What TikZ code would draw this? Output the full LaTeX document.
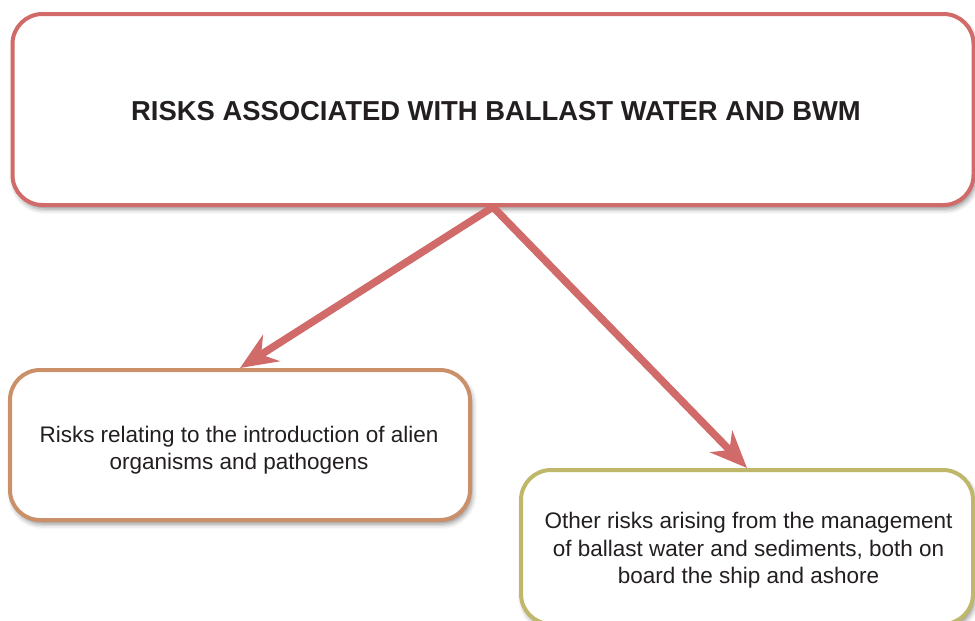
\documentclass[tikz,border=0pt]{standalone}
\usepackage{fontspec}
\setmainfont{Liberation Sans}
\usetikzlibrary{arrows.meta,shadows.blur}

\definecolor{riskred}{HTML}{D16B69}
\definecolor{risktan}{HTML}{C9906A}
\definecolor{riskolive}{HTML}{BFB76A}
\definecolor{inkgray}{HTML}{231F20}

\tikzset{
  card/.style={draw, line width=4pt, rounded corners=30pt, fill=white,
    inner sep=0pt,
    blur shadow={shadow xshift=2pt, shadow yshift=-4pt,
      shadow blur radius=5pt, shadow opacity=45}},
  cardtext/.style={text=inkgray, align=center, inner sep=0pt},
  bodytext/.style={cardtext, font=\fontsize{22.5}{27.5}\selectfont},
  link/.style={draw=riskred, line width=7.5pt,
    -{Stealth[length=37pt, width=31pt, inset=12pt]}}
}

\begin{document}
\begin{tikzpicture}[x=1pt, y=1pt]
  \useasboundingbox (0,0) rectangle (975,-621);

  % headline box
  \node[card, draw=riskred, minimum width=961pt, minimum height=191pt]
    (top) at (493,-109.5) {};
  \node[cardtext, font=\fontsize{27.4}{32}\selectfont\bfseries]
    (toptext) at (496,-111.5) {RISKS ASSOCIATED WITH BALLAST WATER AND BWM};

  % the two kinds of risk
  \node[card, draw=risktan, minimum width=460pt, minimum height=150pt]
    (alien) at (240,-445) {};
  \node[bodytext] (alientext) at (239,-450)
    {Risks relating to the introduction of alien\\organisms and pathogens};

  \node[card, draw=riskolive, minimum width=452pt, minimum height=154pt]
    (other) at (747,-547) {};
  \node[bodytext] (othertext) at (748.5,-550.5)
    {Other risks arising from the management\\of ballast water and sediments, both on\\board the ship and ashore};

  % connectors
  \draw[link] (top.south) -- (alien.north);
  \draw[link] (top.south) -- (other.north);
\end{tikzpicture}
\end{document}
